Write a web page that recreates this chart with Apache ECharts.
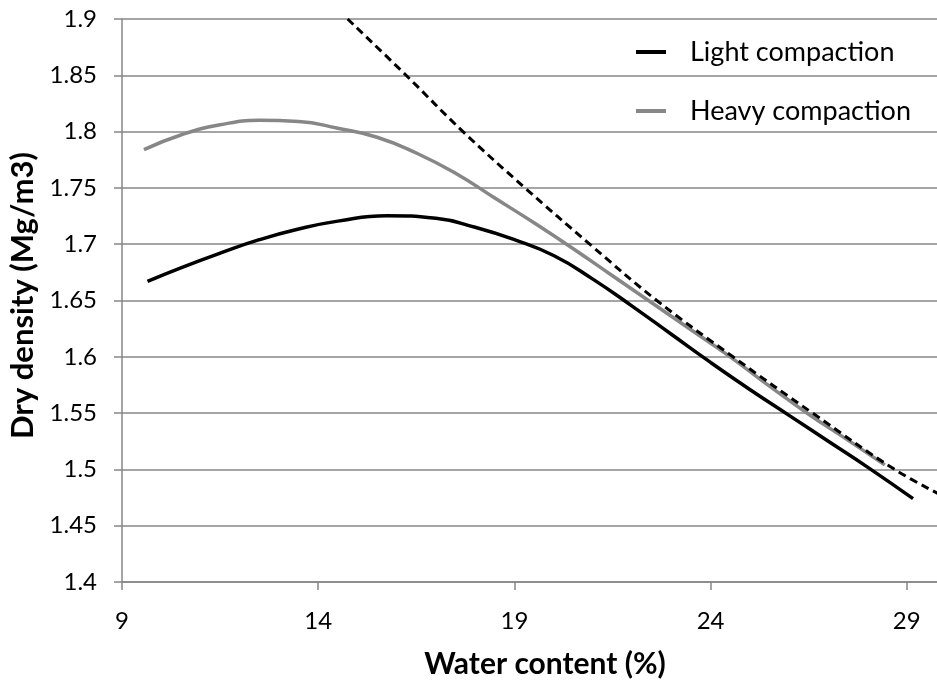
<!DOCTYPE html>
<html>
<head>
<meta charset="utf-8">
<title>Compaction curves</title>
<script src="https://cdn.jsdelivr.net/npm/echarts@6/dist/echarts.min.js"></script>
<style>
  html, body { margin: 0; padding: 0; background: #ffffff; }
  #main { width: 937px; height: 682px; }
</style>
</head>
<body>
<div id="main"></div>
<script>
// values
var lightWater = [9.65, 10.5, 11.5, 12.5, 13.5, 14.5, 15.75, 17.0, 18.0, 19.0, 20.0, 21.0, 22.0, 23.0, 24.0, 25.0, 26.0, 27.0, 28.0, 29.16];
var lightDensity = [1.667, 1.679, 1.692, 1.704, 1.7135, 1.7205, 1.7253, 1.723, 1.715, 1.704, 1.69, 1.669, 1.645, 1.62, 1.595, 1.571, 1.548, 1.525, 1.502, 1.474];

var heavyWater = [9.56, 10.5, 11.5, 12.5, 13.5, 14.5, 15.5, 16.5, 17.5, 18.5, 19.5, 20.5, 21.5, 22.5, 23.5, 24.5, 25.5, 26.5, 27.5, 28.44];
var heavyDensity = [1.784, 1.797, 1.806, 1.81, 1.809, 1.803, 1.795, 1.781, 1.763, 1.741, 1.719, 1.696, 1.672, 1.648, 1.624, 1.6, 1.574, 1.549, 1.526, 1.504];

// zero air voids line (dashed)
var zavWater = [14.75, 16.24, 17.69, 19.27, 20.92, 22.63, 24.57, 26.6, 28.69, 30];
var zavDensity = [1.9, 1.85, 1.8, 1.75, 1.7, 1.65, 1.6, 1.55, 1.5, 1.475];

var seriesNames = ["Light compaction", "Heavy compaction"];

function pairs(xs, ys) {
  var out = [];
  for (var i = 0; i < xs.length; i++) out.push([xs[i], ys[i]]);
  return out;
}

var font = "Lato, 'Open Sans', sans-serif";
var gridGray = "#878787";

var chartDom = document.getElementById("main");
var myChart = echarts.init(chartDom);
var option;

option = {
  animation: false,
  backgroundColor: "#ffffff",
  grid: {
    left: 122,
    top: 19,
    right: -9,
    bottom: 100,
    containLabel: false,
    outerBoundsMode: "none",
  },
  legend: {
    data: seriesNames,
    orient: "vertical",
    left: 631,
    top: 32,
    itemWidth: 30,
    itemHeight: 4,
    itemGap: 29,
    icon: "rect",
    textStyle: {
      fontFamily: font,
      fontSize: 27,
      color: "#000000",
      lineHeight: 30,
      padding: [0, 0, 0, 19],
    },
  },
  xAxis: {
    type: "value",
    min: 9,
    max: 30,
    interval: 5,
    name: "Water content (%)",
    nameLocation: "middle",
    nameGap: 67,
    nameTextStyle: {
      fontFamily: font,
      fontSize: 30,
      fontWeight: "bold",
      color: "#000000",
      padding: [0, 0, 0, 22],
    },
    axisLine: { lineStyle: { color: gridGray, width: 1.5 } },
    axisTick: { show: true, length: 8, inside: false, lineStyle: { color: gridGray, width: 1.5 } },
    axisLabel: { fontFamily: font, fontSize: 24, color: "#000000", margin: 27, showMaxLabel: false },
    splitLine: { show: false },
  },
  yAxis: {
    type: "value",
    min: 1.4,
    max: 1.9,
    interval: 0.05,
    name: "Dry density (Mg/m3)",
    nameLocation: "middle",
    nameGap: 80,
    nameTextStyle: {
      fontFamily: font,
      fontSize: 31,
      fontWeight: "bold",
      color: "#000000",
      padding: [0, 0, 0, 10],
    },
    axisLine: { show: true, lineStyle: { color: gridGray, width: 1.5 } },
    axisTick: { show: true, length: 8, inside: false, lineStyle: { color: gridGray, width: 1.5 } },
    axisLabel: {
      fontFamily: font,
      fontSize: 24,
      color: "#000000",
      margin: 25,
      formatter: function (v) {
        return String(Math.round(v * 100) / 100);
      },
    },
    splitLine: { show: true, lineStyle: { color: gridGray, width: 1.5 } },
  },
  series: [
    {
      name: "Light compaction",
      type: "line",
      data: pairs(lightWater, lightDensity),
      smooth: 0.5,
      showSymbol: false,
      color: "#000000",
      lineStyle: { color: "#000000", width: 3.5 },
      z: 4,
    },
    {
      name: "Heavy compaction",
      type: "line",
      data: pairs(heavyWater, heavyDensity),
      smooth: 0.5,
      showSymbol: false,
      color: "#878787",
      lineStyle: { color: "#878787", width: 3.5 },
      z: 3,
    },
    {
      name: "Zero air voids",
      type: "line",
      data: pairs(zavWater, zavDensity),
      smooth: 0.4,
      showSymbol: false,
      color: "#000000",
      lineStyle: { color: "#000000", width: 3, type: [8, 5] },
      z: 5,
    },
  ],
};

option && myChart.setOption(option);
</script>
</body>
</html>
